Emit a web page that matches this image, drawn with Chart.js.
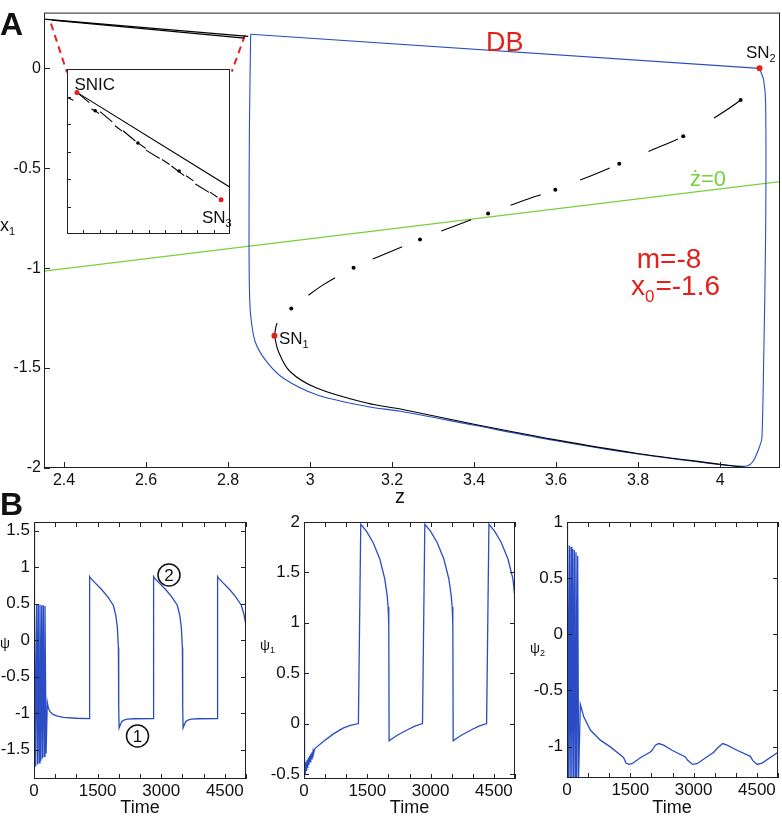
<!DOCTYPE html>
<html>
<head>
<meta charset="utf-8">
<script src="https://cdn.jsdelivr.net/npm/chart.js@4"></script>
<style>
  html, body { margin: 0; padding: 0; background: #fff; }
  #wrap { position: relative; width: 782px; height: 819px; }
  #wrap canvas { position: absolute; left: 0; top: 0; width: 782px; height: 819px; }
</style>
</head>
<body>
<div id="wrap">
  <canvas id="chartA" width="782" height="819"></canvas>
  <canvas id="chartInset" width="782" height="819"></canvas>
  <canvas id="chartB1" width="782" height="819"></canvas>
  <canvas id="chartB2" width="782" height="819"></canvas>
  <canvas id="chartB3" width="782" height="819"></canvas>
</div>
<script>
// ---- panel A : x1 against z ----
const zTicks = [2.4, 2.6, 2.8, 3, 3.2, 3.4, 3.6, 3.8, 4];
const x1Ticks = [-2, -1.5, -1, -0.5, 0];

// blue trajectory: left side, bottom and right side
const blueZ = [2.855, 2.852, 2.851, 2.852, 2.855, 2.866, 2.894, 2.935, 3.016, 3.138, 3.22, 3.397, 3.596, 3.795, 3.995, 4.04, 4.065, 4.081, 4.098, 4.102, 4.106, 4.111, 4.111, 4.106, 4.096];
const blueX1 = [0.171, -0.3, -0.8, -1.1, -1.235, -1.368, -1.468, -1.551, -1.633, -1.692, -1.716, -1.785, -1.862, -1.929, -1.982, -1.99, -1.99, -1.965, -1.882, -1.849, -1.484, -0.821, -0.174, -0.058, 0.0];
// blue top segment (DB)
const blueTopZ = [4.096, 2.855];
const blueTopX1 = [0.0, 0.171];

// stable lower branch (solid black)
const lowZ = [2.913, 2.923, 2.951, 3.016, 3.138, 3.22, 3.397, 3.596, 3.795, 3.995, 4.09];
const lowX1 = [-1.338, -1.418, -1.517, -1.6, -1.675, -1.705, -1.78, -1.858, -1.926, -1.98, -2.005];

// upper branches near the SNIC (solid black)
const upZ = [2.351, 2.849];
const upX1 = [0.246, 0.16];
const up2Z = [2.37, 2.84];
const up2X1 = [0.241, 0.151];

// unstable middle branch (dash-dot)
const midZ = [2.913, 2.919, 2.935, 2.954, 3.027, 3.106, 3.187, 3.268, 3.351, 3.434, 3.516, 3.598, 3.676, 3.754, 3.832, 3.91, 3.98, 4.05, 4.083, 4.096];
const midX1 = [-1.338, -1.277, -1.235, -1.202, -1.09, -0.998, -0.925, -0.856, -0.79, -0.726, -0.665, -0.607, -0.545, -0.478, -0.41, -0.34, -0.255, -0.158, -0.083, 0.0];
const dotZ = [2.954, 3.106, 3.268, 3.434, 3.598, 3.754, 3.91, 4.05];
const dotX1 = [-1.202, -0.998, -0.856, -0.726, -0.607, -0.478, -0.34, -0.158];

// z nullcline
const nullZ = [2.351, 4.146];
const nullX1 = [-1.015, -0.567];

// saddle-node points SN1, SN2
const snZ = [2.913, 4.096];
const snX1 = [-1.338, 0.0];

// red zoom guides
const guideLZ = [2.368, 2.407];
const guideLX1 = [0.224, -0.02];
const guideRZ = [2.841, 2.809];
const guideRX1 = [0.166, -0.016];

// ---- inset (zoom near SNIC) ----
const insetXTicks = [1, 2, 3, 4, 5, 6, 7, 8, 9];
const insetYTicks = [1, 2, 3, 4, 5];
const inSolidU = [0.61, 10];
const inSolidV = [5.15, 1.7];
const inDashU = [0.61, 1.22, 4.9, 6.23, 7.86, 9.45];
const inDashV = [5.15, 4.85, 3.03, 2.55, 1.82, 1.25];
const inDotLineU = [0, 1.73, 4.35, 6.88, 9.45];
const inDotLineV = [4.97, 4.48, 3.31, 2.29, 1.25];
const inDotU = [1.73, 4.35, 6.88];
const inDotV = [4.48, 3.31, 2.29];
const inSnU = [0.61, 9.45];
const inSnV = [5.15, 1.25];

// ---- panel B : time series ----
const timeTicks = [0, 500, 1000, 1500, 2000, 2500, 3000, 3500, 4000, 4500, 5000];
const timeLabels = [0, 1500, 3000, 4500];

const psiTicks = [-1.5, -1, -0.5, 0, 0.5, 1, 1.5];
const psiT = [0, 8, 16, 40, 63, 85, 102, 124, 141, 163, 181, 202, 220, 242, 259, 285, 314, 340, 377, 450, 534, 692, 1006, 1300,
  1312, 1335, 1435, 1595, 1745, 1870, 1930, 1967, 1990, 1998, 2007, 2040, 2075, 2135, 2205, 2355, 2809,
  2821, 2844, 2944, 3104, 3254, 3379, 3439, 3476, 3499, 3507, 3516, 3549, 3584, 3644, 3714, 3864, 4318,
  4330, 4353, 4453, 4613, 4763, 4888, 4950, 5000];
const psi = [1.6, -1.74, 0.49, -1.73, 0.49, -1.7, 0.49, -1.68, 0.49, -1.65, 0.48, -1.62, 0.48, -1.59, 0.47, -1.55, -0.85, -0.93, -0.977, -1.015, -1.036, -1.055, -1.068, -1.073,
  0.873, 0.85, 0.79, 0.695, 0.59, 0.48, 0.34, 0.17, -0.1, -0.9, -1.2, -1.15, -1.11, -1.09, -1.08, -1.075, -1.073,
  0.873, 0.85, 0.79, 0.695, 0.59, 0.48, 0.34, 0.17, -0.1, -0.9, -1.2, -1.15, -1.11, -1.09, -1.08, -1.075, -1.073,
  0.873, 0.85, 0.79, 0.695, 0.59, 0.48, 0.36, 0.2];

const psi1Ticks = [-0.5, 0, 0.5, 1, 1.5, 2];
const psi1T = [0, 6, 20, 32, 48, 60, 76, 88, 104, 116, 132, 144, 160, 172, 188, 200, 216, 228, 250, 293, 451, 688, 925, 1100,
  1289, 1345, 1479, 1637, 1796, 1914, 1970, 1993, 2009, 2017, 2191, 2428, 2626,
  2808, 2863, 2997, 3155, 3314, 3432, 3488, 3511, 3527, 3535, 3709, 3946, 4144,
  4327, 4382, 4516, 4674, 4833, 4951, 5000];
const psi1 = [1.0, -0.53, -0.4, -0.5, -0.38, -0.47, -0.36, -0.44, -0.34, -0.41, -0.32, -0.38, -0.3, -0.35, -0.285, -0.32, -0.27, -0.295, -0.255, -0.236, -0.18, -0.105, -0.046, -0.018,
  0, 1.977, 1.91, 1.797, 1.633, 1.436, 1.272, 1.157, 0.977, -0.17, -0.121, -0.066, -0.026,
  0, 1.977, 1.91, 1.797, 1.633, 1.436, 1.272, 1.157, 0.977, -0.17, -0.121, -0.066, -0.026,
  0, 1.977, 1.91, 1.797, 1.633, 1.436, 1.24];

const psi2Ticks = [-1, -0.5, 0, 0.5, 1];
const psi2T = [0, 6, 16, 36, 55, 75, 95, 115, 134, 154, 174, 194, 213, 233, 253, 275, 316, 395, 553, 790, 1027, 1304,
  1343, 1398, 1462, 1541, 1738, 1975, 2015, 2094, 2173, 2291, 2489, 2805, 2860, 2978, 3081, 3476, 3555, 3689, 3792,
  4029, 4345, 4400, 4503, 4622, 5000];
const psi2 = [0.99, -1.27, 0.8, -1.27, 0.79, -1.27, 0.78, -1.27, 0.76, -1.27, 0.75, -1.27, 0.73, -1.27, 0.7, -1.27, -0.623, -0.733, -0.853, -0.943, -1.003, -1.087,
  -1.099, -1.147, -1.159, -1.153, -1.099, -1.048, -1.033, -0.988, -0.973, -0.988, -1.033, -1.093, -1.123, -1.159, -1.153, -1.051, -1.018, -0.973, -0.988,
  -1.033, -1.087, -1.123, -1.159, -1.147, -1.051];

// ---- helpers ----
const W = 782, H = 819;
const FONT = '"Liberation Sans", Arial, sans-serif';
const BLUE = "#2a4cc4";
const RED = "#e3211c";
const GREEN = "#78d03c";

const pts = (xs, ys) => xs.map((x, i) => ({ x, y: ys[i] }));

// padding that puts the plot area at (l, t)-(r, b)
function area(l, t, r, b, yw, xh) {
  return { left: l - yw, top: t, right: W - r, bottom: H - b - xh };
}

function line(xs, ys, color, width, extra) {
  return Object.assign(
    {
      data: pts(xs, ys),
      showLine: true,
      borderColor: color,
      borderWidth: width,
      pointRadius: 0,
      tension: 0,
    },
    extra || {}
  );
}

function dots(xs, ys, color, r) {
  return {
    data: pts(xs, ys),
    showLine: false,
    pointRadius: r,
    pointBackgroundColor: color,
    pointBorderWidth: 0,
  };
}

// box + inward tick marks, matlab style
const frame = {
  id: "frame",
  beforeDatasetsDraw(chart, args, opts) {
    if (!opts.fill) return;
    const a = chart.chartArea;
    const ctx = chart.ctx;
    ctx.save();
    ctx.fillStyle = "#fff";
    ctx.fillRect(a.left, a.top, a.right - a.left, a.bottom - a.top);
    ctx.restore();
  },
  afterDatasetsDraw(chart, args, opts) {
    const { ctx, chartArea: a, scales } = chart;
    const len = opts.len || 5;
    ctx.save();
    ctx.strokeStyle = "#222";
    ctx.lineWidth = 1;
    ctx.strokeRect(a.left + 0.5, a.top + 0.5, a.right - a.left - 1, a.bottom - a.top - 1);
    ctx.beginPath();
    scales.x.ticks.forEach((t) => {
      const px = Math.round(scales.x.getPixelForValue(t.value)) + 0.5;
      ctx.moveTo(px, a.bottom);
      ctx.lineTo(px, a.bottom - len);
      if (opts.mirror) {
        ctx.moveTo(px, a.top);
        ctx.lineTo(px, a.top + len);
      }
    });
    scales.y.ticks.forEach((t) => {
      const py = Math.round(scales.y.getPixelForValue(t.value)) + 0.5;
      ctx.moveTo(a.left, py);
      ctx.lineTo(a.left + len, py);
      if (opts.mirror) {
        ctx.moveTo(a.right, py);
        ctx.lineTo(a.right - len, py);
      }
    });
    ctx.stroke();
    ctx.restore();
  },
};

// free text (with subscripts) and circled numbers
const notes = {
  id: "notes",
  afterDraw(chart, args, opts) {
    const ctx = chart.ctx;
    (opts.items || []).forEach((it) => {
      ctx.save();
      ctx.fillStyle = it.color || "#111";
      ctx.strokeStyle = it.color || "#111";
      ctx.textBaseline = "alphabetic";
      const size = it.size || 16;
      const weight = it.bold ? "bold " : "";
      if (it.circle) {
        ctx.lineWidth = 1.5;
        ctx.beginPath();
        ctx.arc(it.x, it.y, it.r, 0, Math.PI * 2);
        ctx.stroke();
        ctx.font = size + "px " + FONT;
        ctx.textAlign = "center";
        ctx.textBaseline = "middle";
        ctx.fillText(it.text, it.x, it.y + 1);
        ctx.restore();
        return;
      }
      const fonts = it.parts.map((p) => weight + (p.sub ? Math.round(size * 0.62) : size) + "px " + FONT);
      const widths = it.parts.map((p, i) => {
        ctx.font = fonts[i];
        return ctx.measureText(p.t).width;
      });
      const total = widths.reduce((s, w) => s + w, 0);
      let x = it.align === "center" ? it.x - total / 2 : it.x;
      it.parts.forEach((p, i) => {
        ctx.font = fonts[i];
        ctx.fillText(p.t, x, it.y + (p.sub ? size * 0.24 : 0));
        x += widths[i] + (p.sub ? 1 : 0);
      });
      ctx.restore();
    });
  },
};

function axisY(ticks, width, size, pad, extra) {
  return Object.assign(
    {
      type: "linear",
      min: ticks[0],
      max: ticks[ticks.length - 1],
      afterBuildTicks: (s) => {
        s.ticks = ticks.map((v) => ({ value: v }));
      },
      afterFit: (s) => {
        s.width = width;
      },
      grid: { display: false, drawTicks: false },
      border: { display: false },
      ticks: {
        color: "#111",
        padding: pad,
        font: { family: FONT, size },
        callback: (v) => String(v),
      },
    },
    extra || {}
  );
}

function axisX(ticks, labels, height, size, pad, extra) {
  return Object.assign(
    {
      type: "linear",
      min: ticks[0],
      max: ticks[ticks.length - 1],
      afterBuildTicks: (s) => {
        s.ticks = ticks.map((v) => ({ value: v }));
      },
      afterFit: (s) => {
        s.height = height;
      },
      grid: { display: false, drawTicks: false },
      border: { display: false },
      ticks: {
        color: "#111",
        padding: pad,
        autoSkip: false,
        maxRotation: 0,
        font: { family: FONT, size },
        callback: (v) => (labels.includes(v) ? String(v) : ""),
      },
    },
    extra || {}
  );
}

function baseOptions(padding, scales, frameOpts, noteItems) {
  return {
    responsive: false,
    animation: false,
    events: [],
    layout: { padding, autoPadding: false },
    scales,
    plugins: {
      legend: { display: false },
      tooltip: { enabled: false },
      frame: frameOpts,
      notes: { items: noteItems },
    },
  };
}

// ---- chart A ----
new Chart(document.getElementById("chartA"), {
  type: "scatter",
  data: {
    datasets: [
      dots(snZ, snX1, RED, 3),
      dots(dotZ, dotX1, "#000", 2),
      line(midZ, midX1, "#000", 1.1, { borderDash: [32, 42], borderDashOffset: 19, tension: 0.3 }),
      line(lowZ, lowX1, "#000", 1.1, { tension: 0.35 }),
      line(upZ, upX1, "#000", 1.2),
      line(up2Z, up2X1, "#000", 1.2),
      line(blueZ, blueX1, BLUE, 1.1, { tension: 0.3 }),
      line(blueTopZ, blueTopX1, BLUE, 1.1),
      line(nullZ, nullX1, GREEN, 1.2),
      line(guideLZ, guideLX1, RED, 2, { borderDash: [7, 5] }),
      line(guideRZ, guideRX1, RED, 2, { borderDash: [7, 5] }),
    ],
  },
  options: baseOptions(
    area(44, 9, 780, 468, 44, 37),
    {
      x: Object.assign(axisX(zTicks, zTicks, 37, 16, 3), { min: 2.351, max: 4.146 }),
      y: Object.assign(axisY(x1Ticks, 44, 16, 3), { min: -2, max: 0.279 }),
    },
    { len: 6, mirror: false },
    [
      { x: 0, y: 35, parts: [{ t: "A" }], size: 32, bold: true },
      { x: 486, y: 51, parts: [{ t: "DB" }], size: 27, color: RED },
      { x: 746, y: 58, parts: [{ t: "SN" }, { t: "2", sub: true }], size: 17 },
      { x: 279, y: 343.5, parts: [{ t: "SN" }, { t: "1", sub: true }], size: 17 },
      { x: 690, y: 186, parts: [{ t: "ż=0" }], size: 22, color: GREEN },
      { x: 669, y: 268, parts: [{ t: "m=-8" }], size: 28, color: RED, align: "center" },
      { x: 675, y: 295, parts: [{ t: "x" }, { t: "0", sub: true }, { t: "=-1.6" }], size: 28, color: RED, align: "center" },
      { x: 0, y: 231, parts: [{ t: "x" }, { t: "1", sub: true }], size: 18 },
      { x: 400, y: 503, parts: [{ t: "z" }], size: 20, align: "center" },
    ]
  ),
  plugins: [frame, notes],
});

// ---- inset ----
new Chart(document.getElementById("chartInset"), {
  type: "scatter",
  data: {
    datasets: [
      dots(inSnU, inSnV, RED, 2.5),
      dots(inDotU, inDotV, "#000", 1.8),
      line(inSolidU, inSolidV, "#000", 1.1),
      line(inDashU, inDashV, "#000", 1.1, { borderDash: [16, 14] }),
      line(inDotLineU, inDotLineV, "#000", 1.1, { borderDash: [9, 20], borderDashOffset: 2 }),
    ],
  },
  options: baseOptions(
    area(67, 69, 230, 234, 0, 0),
    {
      x: Object.assign(axisX([0].concat(insetXTicks, [10]), [], 0, 10, 0), {
        afterBuildTicks: (s) => {
          s.ticks = insetXTicks.map((v) => ({ value: v }));
        },
        min: 0,
        max: 10,
        ticks: { display: false },
      }),
      y: Object.assign(axisY([0].concat(insetYTicks, [6]), 0, 10, 0), {
        afterBuildTicks: (s) => {
          s.ticks = insetYTicks.map((v) => ({ value: v }));
        },
        min: 0,
        max: 6,
        ticks: { display: false },
      }),
    },
    { len: 4, mirror: false, fill: true },
    [
      { x: 74.5, y: 90, parts: [{ t: "SNIC" }], size: 17 },
      { x: 202, y: 222.5, parts: [{ t: "SN" }, { t: "3", sub: true }], size: 17 },
    ]
  ),
  plugins: [frame, notes],
});

// ---- panel B ----
function timeChart(id, t, v, yTicks, box, yMin, yMax, noteItems) {
  new Chart(document.getElementById(id), {
    type: "scatter",
    data: {
      datasets: [line(t, v, BLUE, 1.3)],
    },
    options: baseOptions(
      area(box[0], box[1], box[2], box[3], 34, 30),
      {
        x: axisX(timeTicks, timeLabels, 30, 17, 2),
        y: Object.assign(axisY(yTicks, 34, 17, 4), { min: yMin, max: yMax }),
      },
      { len: 5, mirror: true },
      noteItems
    ),
    plugins: [frame, notes],
  });
}

timeChart("chartB1", psiT, psi, psiTicks, [34, 522, 246, 779], -1.9, 1.62, [
  { x: 0, y: 515, parts: [{ t: "B" }], size: 32, bold: true },
  { x: 0, y: 648, parts: [{ t: "ψ" }], size: 14 },
  { x: 140, y: 813, parts: [{ t: "Time" }], size: 18, align: "center" },
  { circle: true, x: 169, y: 575, r: 11, text: "2", size: 17 },
  { circle: true, x: 137.5, y: 736, r: 11, text: "1", size: 17 },
]);

timeChart("chartB2", psi1T, psi1, psi1Ticks, [304, 522, 515, 779], -0.55, 2, [
  { x: 260, y: 650, parts: [{ t: "ψ" }, { t: "1", sub: true }], size: 14 },
  { x: 409.5, y: 813, parts: [{ t: "Time" }], size: 18, align: "center" },
]);

timeChart("chartB3", psi2T, psi2, psi2Ticks, [567, 522, 778, 778], -1.28, 1, [
  { x: 530, y: 653, parts: [{ t: "ψ" }, { t: "2", sub: true }], size: 14 },
  { x: 672, y: 813, parts: [{ t: "Time" }], size: 18, align: "center" },
]);
</script>
</body>
</html>
